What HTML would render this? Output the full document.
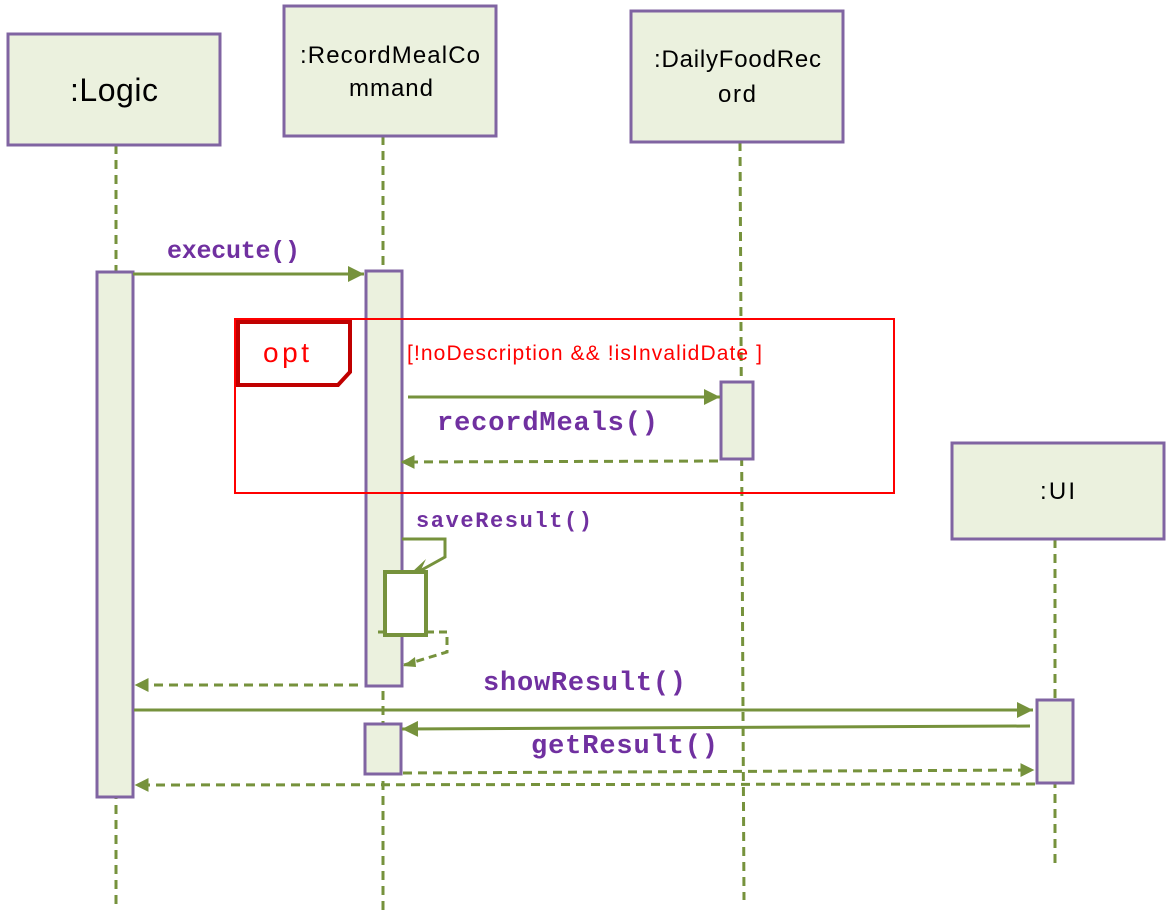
<!DOCTYPE html>
<html><head><style>body{margin:0;background:#fff}svg{display:block}</style></head><body>
<svg width="1173" height="923" viewBox="0 0 1173 923" xmlns="http://www.w3.org/2000/svg">
<defs>
<marker id="f" viewBox="0 0 10 10" markerWidth="20" markerHeight="16" refX="10" refY="5" orient="auto" markerUnits="userSpaceOnUse"><path d="M0,0 L10,5 L0,10 z" fill="#76923c"/></marker>
<marker id="o" viewBox="0 0 10 10" markerWidth="14" markerHeight="14" refX="9" refY="5" orient="auto" markerUnits="userSpaceOnUse"><path d="M0,0 L10,5 L0,10 z" fill="#76923c"/></marker>
</defs>
<g stroke="#76923c" stroke-width="3" stroke-dasharray="9,6" fill="none">
<line x1="116" y1="145" x2="116" y2="910"/>
<line x1="383" y1="136" x2="383" y2="910"/>
<line x1="740" y1="142" x2="744" y2="900"/>
<line x1="1055" y1="539" x2="1055" y2="868"/>
</g>
<g fill="#ebf1de" stroke="#8064a2" stroke-width="3">
<rect x="8" y="34" width="212" height="111"/>
<rect x="284" y="6" width="212" height="130"/>
<rect x="631" y="11" width="212" height="131"/>
<rect x="952" y="443" width="212" height="96"/>
<rect x="97" y="272" width="36" height="525"/>
<rect x="366" y="271" width="36" height="415"/>
<rect x="721" y="382" width="32" height="77"/>
<rect x="1037" y="700" width="36" height="83"/>
<rect x="365" y="724" width="36" height="50"/>
</g>
<g font-family="Liberation Sans, sans-serif" fill="#000">
<text x="70" y="101" font-size="32" textLength="88">:Logic</text>
<text x="300" y="63" font-size="24" textLength="180">:RecordMealCo</text>
<text x="349" y="96" font-size="24" textLength="84">mmand</text>
<text x="654" y="67" font-size="24" textLength="167">:DailyFoodRec</text>
<text x="718" y="102" font-size="24" textLength="38">ord</text>
<text x="1040" y="499" font-size="24" textLength="35">:UI</text>
</g>
<rect x="235" y="319" width="659" height="174" fill="none" stroke="#ff0000" stroke-width="2"/>
<path d="M238,322 H350 V372 L338,385 H238 Z" fill="none" stroke="#c00000" stroke-width="4"/>
<text x="263" y="362" font-family="Liberation Sans, sans-serif" font-size="28" fill="#ff0000" textLength="46">opt</text>
<text x="407" y="360" font-family="Liberation Sans, sans-serif" font-size="21" fill="#ff0000" textLength="355">[!noDescription &amp;&amp; !isInvalidDate ]</text>
<g stroke="#76923c" stroke-width="3" fill="none">
<line x1="133" y1="274" x2="364" y2="274" marker-end="url(#f)"/>
<line x1="408" y1="397" x2="720" y2="397" marker-end="url(#f)"/>
<line x1="718" y1="461" x2="402" y2="462" stroke-dasharray="9,6" marker-end="url(#o)"/>
<polyline points="402,539 445,539 445,557 418,572"/>
<rect x="385" y="572" width="41" height="63" fill="#fff" stroke-width="4"/>
<line x1="378" y1="632" x2="385" y2="632"/>
<polyline points="426,632 447,632 447,652 404,665" stroke-dasharray="8,5"/>
<line x1="358" y1="685" x2="136" y2="685" stroke-dasharray="9,6" marker-end="url(#o)"/>
<line x1="134" y1="710" x2="1033" y2="710" marker-end="url(#f)"/>
<line x1="1030" y1="726" x2="402" y2="729" marker-end="url(#f)"/>
<line x1="403" y1="773" x2="1033" y2="770" stroke-dasharray="9,6" marker-end="url(#o)" />
<line x1="1035" y1="784" x2="136" y2="785" stroke-dasharray="9,6" marker-end="url(#o)"/>
</g>
<path d="M411,573 L426,559 L420,572 Z" fill="#76923c"/>
<path d="M403,666 L415,657 L416,667 Z" fill="#76923c"/>
<g font-family="Liberation Mono, monospace" font-weight="bold" fill="#7030a0">
<text x="167" y="258" font-size="25" textLength="133">execute()</text>
<text x="437" y="430" font-size="27" textLength="221">recordMeals()</text>
<text x="416" y="527" font-size="22" textLength="176">saveResult()</text>
<text x="483" y="690" font-size="27" textLength="203">showResult()</text>
<text x="531" y="753" font-size="27" textLength="187">getResult()</text>
</g>
</svg>
</body></html>
